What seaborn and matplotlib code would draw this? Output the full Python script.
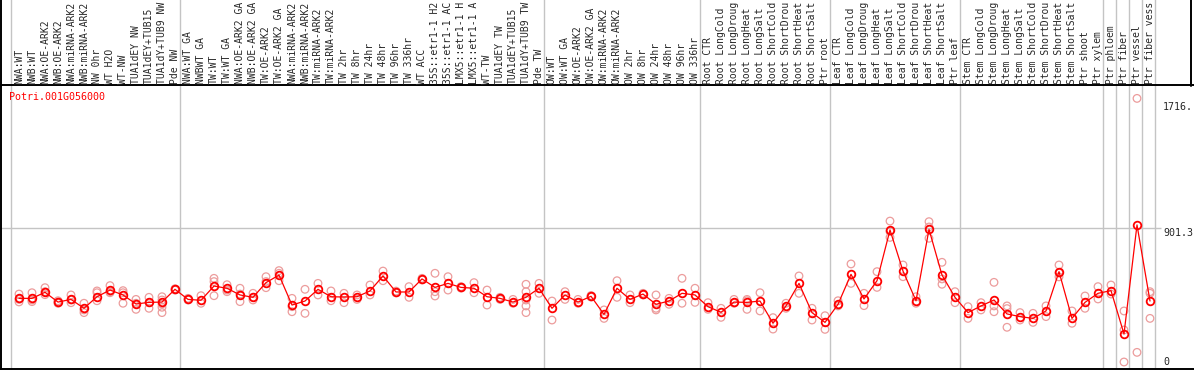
import numpy as np
import pandas as pd
import matplotlib
matplotlib.use("Agg")
import matplotlib.pyplot as plt
import matplotlib.transforms as mtransforms
from matplotlib.lines import Line2D
import seaborn as sns

# Data
gene_id = "Potri.001G056000"

samples = [
    "NWA:WT", "NWB:WT", "NWA:OE-ARK2", "NWB:OE-ARK2", "NWA:miRNA-ARK2", "NWB:miRNA-ARK2",
    "NW 0hr", "WT H2O", "WT-NW", "TUA1dEY NW", "TUA1dEY+TUB15", "TUA1dY+TUB9 NW", "Pde NW",
    "NWA:WT GA", "NWBWT GA", "TW:WT", "TW:WT GA", "NWA:OE-ARK2 GA", "NWB:OE-ARK2 GA",
    "TW:OE-ARK2", "TW:OE-ARK2 GA", "NWA:miRNA-ARK2", "NWB:miRNA-ARK2", "TW:miRNA-ARK2",
    "TW:miRNA-ARK2", "TW 2hr", "TW 8hr", "TW 24hr", "TW 48hr", "TW 96hr", "TW 336hr",
    "WT ACC", "35S::etr1-1 H2", "35S::etr1-1 AC", "LMX5::etr1-1 H", "LMX5::etr1-1 A",
    "WT-TW", "TUA1dEY TW", "TUA1dEY+TUB15", "TUA1dY+TUB9 TW", "Pde TW",
    "OW:WT", "OW:WT GA", "OW:OE-ARK2", "OW:OE-ARK2 GA", "OW:miRNA-ARK2", "OW:miRNA-ARK2",
    "OW 2hr", "OW 8hr", "OW 24hr", "OW 48hr", "OW 96hr", "OW 336hr",
    "Root CTR", "Root LongCold", "Root LongDroug", "Root LongHeat", "Root LongSalt",
    "Root ShortCold", "Root ShortDrou", "Root ShortHeat", "Root ShortSalt", "Ptr root",
    "Leaf CTR", "Leaf LongCold", "Leaf LongDroug", "Leaf LongHeat", "Leaf LongSalt",
    "Leaf ShortCold", "Leaf ShortDrou", "Leaf ShortHeat", "Leaf ShortSalt", "Ptr leaf",
    "Stem CTR", "Stem LongCold", "Stem LongDroug", "Stem LongHeat", "Stem LongSalt",
    "Stem ShortCold", "Stem ShortDrou", "Stem ShortHeat", "Stem ShortSalt", "Ptr shoot",
    "Ptr xylem", "Ptr phloem", "Ptr fiber", "Ptr vessel", "Ptr fiber vess",
]

means = [
    429, 429, 470, 404, 422, 362, 440, 485, 452, 391, 402, 404, 490,
    422, 416, 512, 497, 452, 436, 535, 586, 384, 411, 490, 440, 438, 440, 479, 580,
    472, 472, 560, 503, 530, 503, 497, 440, 429, 404, 436, 497,
    362, 452, 404, 443, 321, 497, 422, 458, 389, 411, 463, 452,
    373, 335, 404, 402, 411, 261, 378, 530, 333, 267,
    389, 591, 425, 548, 890, 613, 413, 894, 586, 436,
    333, 378, 418, 324, 306, 294, 344, 609, 294, 402, 463,
    481, 189, 924, 411,
]

replicates = [
    [458, 422, 405], [467, 418, 407], [501, 474, 454], [413, 396, 405], [452, 418, 400],
    [396, 351, 333], [479, 467, 413], [515, 474, 467], [481, 467, 396], [422, 396, 355],
    [436, 400, 362], [440, 418, 391, 369, 333], [494, 485],
    [429, 418], [447, 396], [564, 542, 447], [521, 474, 485], [497, 458, 407],
    [463, 436, 418], [575, 542, 501], [616, 598, 548], [429, 373, 339], [490, 328],
    [530, 452], [479, 413], [463, 400], [452, 422], [519, 452], [613, 548], [478, 466],
    [508, 436], [564, 553], [598, 474, 445], [575, 485], [508, 498], [535, 467],
    [485, 384], [436, 422], [422, 396], [524, 474, 418, 378, 333], [530, 463],
    [411, 283], [474, 422], [422, 396], [448, 438], [351, 294], [548, 436], [452, 400],
    [463, 452], [452, 362, 351], [429, 389], [564, 396], [497, 402],
    [400, 355], [362, 301], [422, 396], [422, 413, 355], [467, 344], [299, 222],
    [396, 362], [580, 463], [362, 283], [312, 220],
    [413, 378], [661, 530], [463, 380], [609, 503], [950, 880, 840], [654, 575],
    [440, 396], [946, 910, 834], [672, 560, 524], [474, 400],
    [373, 294], [400, 351], [537, 378, 339], [378, 360, 234], [333, 283], [328, 267],
    [378, 306], [654, 600, 574], [344, 261], [445, 362], [508, 425],
    [519, 458], [344, 216, 0], [1777, 65], [474, 463, 294],
]

group_starts = [0, 13, 41, 53, 63, 73, 84, 85, 86, 87, 88]
ytick_values = [0, 901.3, 1716]
ytick_labels = ["0", "901.3", "1716."]

# Tables for seaborn
mean_df = pd.DataFrame({"sample": np.arange(len(samples)), "value": means})
rep_df = pd.DataFrame(
    [(i, v) for i, reps in enumerate(replicates) for v in reps],
    columns=["sample", "value"],
)

sns.set_style("white")
plt.rcParams["font.family"] = ["DejaVu Sans Mono"]

W, H = 1194, 370
fig = plt.figure(figsize=(W / 100, H / 100), dpi=100)
ax = fig.add_axes([1 / W, 1 / H, 1 - 1 / W, 284 / H])

x0, x1 = (1 - 19) / 13, (W - 19) / 13
ax.set_xlim(x0, x1)
ax.set_ylim(-47.2, 1867.3)

grid_col = "#c4c4c4"
for b in group_starts:
    ax.axvline(b - 0.6, ymin=0, ymax=(284 + 86) / 284, color=grid_col, lw=1,
               clip_on=False, zorder=0)
ax.hlines(901.3, x0, 87.85, color=grid_col, lw=1, zorder=0)

sns.scatterplot(data=rep_df, x="sample", y="value", ax=ax, marker="o", s=30,
                color="#ec9c9c", facecolors="none", edgecolor="#ec9c9c",
                linewidth=0.9, zorder=2, legend=False)
sns.lineplot(data=mean_df, x="sample", y="value", ax=ax, color="red", lw=0.9,
             marker="o", ms=5.5, mfc="none", mec="red", mew=1.3, zorder=3)

ax.set_xlabel("")
ax.set_ylabel("")
ax.set_xticks([])
ax.set_yticks([])
for side in ["left", "bottom", "top"]:
    ax.spines[side].set_visible(True)
    ax.spines[side].set_color("black")
    ax.spines[side].set_linewidth(1.4)
ax.spines["right"].set_visible(False)

# header box edges
fig.add_artist(Line2D([1 / W, 1 / W], [1 - 86 / H, 1], color="black", lw=1.4))
fig.add_artist(Line2D([1191 / W, 1191 / W], [1 - 86 / H, 1], color="black", lw=1.4))

# rotated sample labels
trans = mtransforms.blended_transform_factory(ax.transData, fig.transFigure)
for i, name in enumerate(samples):
    ax.text(i, 1 - 83.5 / H, name, rotation=90, ha="center", va="bottom",
            fontsize=7.0, transform=trans, clip_on=False)

fig.text(9.5 / W, 1 - 96.7 / H, gene_id, color="red", fontsize=7.2,
         ha="left", va="center")

offsets = {"0": 0.2, "901.3": -3.2, "1716.": 0.5}
for v, lab in zip(ytick_values, ytick_labels):
    ax.annotate(lab, xy=(88.0, v), xytext=(0, offsets[lab]), textcoords="offset points",
                ha="left", va="center", fontsize=7.2)

fig.savefig("out.png", dpi=100)
